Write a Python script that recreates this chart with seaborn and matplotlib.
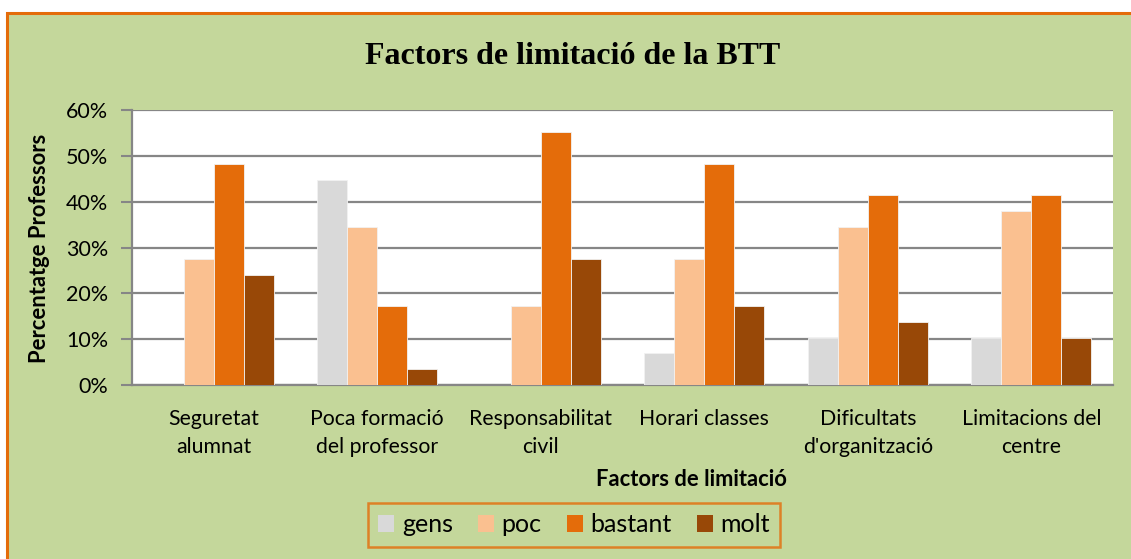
import matplotlib
matplotlib.use("Agg")
import matplotlib.pyplot as plt
import seaborn as sns
import pandas as pd
from matplotlib.patches import Rectangle

categories = ["Seguretat\nalumnat", "Poca formació\ndel professor", "Responsabilitat\ncivil",
              "Horari classes", "Dificultats\nd'organització", "Limitacions del\ncentre"]
series = ["gens", "poc", "bastant", "molt"]
gens = [0.0, 44.8, 0.0, 6.9, 10.3, 10.3]
poc = [27.6, 34.5, 17.2, 27.6, 34.5, 37.9]
bastant = [48.3, 17.2, 55.2, 48.3, 41.4, 41.4]
molt = [24.1, 3.4, 27.6, 17.2, 13.8, 10.3]
colors = ["#D9D9D9", "#FAC090", "#E46C0A", "#984807"]
yticks = [0, 10, 20, 30, 40, 50, 60]

rows = []
for s, vals in zip(series, [gens, poc, bastant, molt]):
    for c, v in zip(categories, vals):
        rows.append({"cat": c, "serie": s, "val": v})
df = pd.DataFrame(rows)

sns.set_theme(style="white")
plt.rcParams["font.family"] = ["Lato", "DejaVu Sans"]
plt.rcParams["text.color"] = "black"
plt.rcParams["axes.labelcolor"] = "black"

fig = plt.figure(figsize=(11.31, 5.59), dpi=100)
fig.patch.set_facecolor("white")
# green chart area with orange border
bg = Rectangle((6.5 / 1131, -0.05), 1.2, (559 - 12.5) / 559 + 0.05, transform=fig.transFigure,
               facecolor="#C4D79B", edgecolor="#E46C0A", linewidth=2.2, zorder=-5)
fig.patches.append(bg)

ax = fig.add_axes([132 / 1131, (559 - 385) / 559, (1113 - 132) / 1131, (385 - 110) / 559])
ax.set_zorder(2)
ax.set_facecolor("white")
sns.barplot(data=df, x="cat", y="val", hue="serie", hue_order=series, order=categories,
            palette=colors, width=0.735, saturation=1, ax=ax, legend=True,
            edgecolor="#F2F2F2", linewidth=0.6, zorder=3)

ax.set_ylim(0, 60)
ax.set_xlim(-0.5, len(categories) - 0.5)
ax.set_yticks(yticks)
ax.set_yticklabels([f"{t}%" for t in yticks], fontsize=15.5, color="black")
ax.set_xticks(range(len(categories)))
ax.set_xticklabels(categories, fontsize=15.3, color="black", linespacing=1.55)
ax.tick_params(axis="x", which="major", length=0, pad=17)
ax.set_xticks([i - 0.5 for i in range(len(categories) + 1)], minor=True)
ax.tick_params(axis="x", which="minor", length=7, width=1.5, color="#868686", direction="out")
ax.tick_params(axis="y", which="major", length=8, width=1.5, color="#868686", direction="out", pad=9, left=True)
ax.grid(axis="y", color="#868686", linewidth=1.6, zorder=1)
ax.set_axisbelow(True)
for side in ["top", "right"]:
    ax.spines[side].set_visible(False)
for side in ["left", "bottom"]:
    ax.spines[side].set_color("#868686")
    ax.spines[side].set_linewidth(1.6)

ax.set_xlabel("")
ax.set_ylabel("")
fig.text(40 / 1131, 1 - 248 / 559, "Percentatge Professors", rotation=90, ha="center", va="center",
         fontsize=15.8, fontweight="bold", color="black")
fig.text(691 / 1131, 1 - 480 / 559, "Factors de limitació", ha="center", va="center",
         fontsize=15.8, fontweight="bold", color="black")

fig.text(573 / 1131, 1 - 56 / 559, "Factors de limitació de la BTT", ha="center", va="center",
         fontsize=23, fontweight="bold", family="Liberation Serif", color="black")

leg = ax.legend(loc="center", bbox_to_anchor=(574 / 1131, 1 - 525 / 559), bbox_transform=fig.transFigure,
                ncol=4, frameon=True, fontsize=18, handlelength=0.65, handleheight=0.65,
                handletextpad=0.3, columnspacing=1.0, borderpad=0.42, fancybox=False)
leg.get_frame().set_edgecolor("#E46C0A")
leg.get_frame().set_linewidth(1.8)
leg.get_frame().set_facecolor("#C4D79B")
for h in leg.legend_handles:
    h.set_edgecolor("none")
for t in leg.get_texts():
    t.set_color("black")

fig.savefig("out.png", dpi=100, facecolor=fig.get_facecolor())
